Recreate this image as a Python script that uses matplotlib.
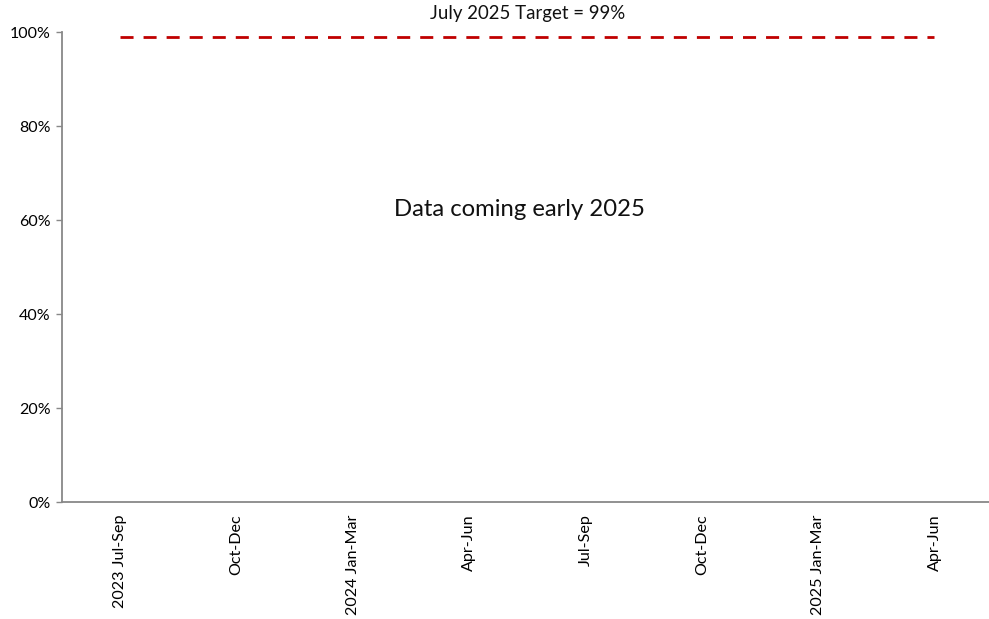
import numpy as np
from matplotlib import pyplot as plt
from matplotlib.ticker import PercentFormatter

plt.rcParams['font.family'] = ['Lato', 'DejaVu Sans']

quarters = ["2023 Jul-Sep", "Oct-Dec", "2024 Jan-Mar", "Apr-Jun",
            "Jul-Sep", "Oct-Dec", "2025 Jan-Mar", "Apr-Jun"]
target = [0.99] * len(quarters)
yticks = [0, 0.2, 0.4, 0.6, 0.8, 1.0]

fig = plt.figure(figsize=(9.89, 6.19), dpi=100)
ax = fig.add_axes([0.0627, 0.189, 0.941, 0.759])

x = np.arange(len(quarters))
ax.plot(x, target, color="#C00000", linewidth=2.0, dashes=(4.7, 3.6))

ax.set_xlim(-0.5, len(quarters) - 0.5)
ax.set_ylim(0, 1)
ax.set_yticks(yticks)
ax.yaxis.set_major_formatter(PercentFormatter(1.0, decimals=0))
ax.set_xticks(x)
ax.set_xticklabels(quarters, rotation=90, fontsize=11.6)
ax.tick_params(axis="x", length=0, pad=9)
ax.tick_params(axis="y", length=4, width=1, color="#888888", labelsize=11.5, pad=4)

for side in ["top", "right"]:
    ax.spines[side].set_visible(False)
for side in ["left", "bottom"]:
    ax.spines[side].set_color("#888888")
    ax.spines[side].set_linewidth(1.3)

fig.text(528 / 989, 1 - 13 / 619, "July 2025 Target = 99%",
         ha="center", va="center", fontsize=13.4, color="#111111")
fig.text(519 / 989, 1 - 209 / 619, "Data coming early 2025", ha="center", va="center",
         fontsize=17.2, color="#111111")

plt.savefig("out.png", dpi=100)
